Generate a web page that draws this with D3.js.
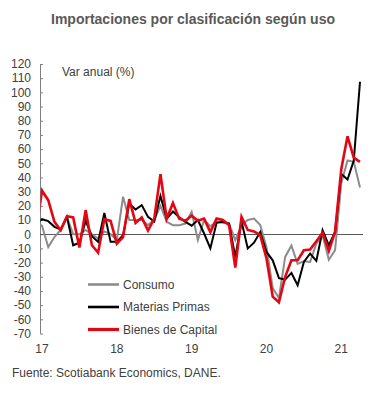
<!DOCTYPE html>
<html>
<head>
<meta charset="utf-8">
<script src="https://cdn.jsdelivr.net/npm/d3@7"></script>
<style>
  html, body { margin: 0; padding: 0; background: #fff; }
  svg { display: block; font-family: "Liberation Sans", Arial, sans-serif; }
</style>
</head>
<body>
<svg id="chart" width="386" height="397"></svg>
<script>
// Months: index -1 = Dec 2016 (clipped at axis), 0 = Jan 2017 ... 51 = Apr 2021
const startIndex = -1;
const consumo = [8,
  6, -9, -2, 3, 12, 0, 0, 3, 0, -3, 2, 0,
  -4, 26.4, 10, 10, 10, 6.4, 10, 20, 8.7, 6.4, 6.4, 7.5,
  15.8, -4.2, 10, 5.6, 8.7, 8, 7.5, -4.2, 6.4, 10, 11, 6.4,
  -9, -38, -45, -16, -8, -21, -19, -19.5, -6.6, -0.7, -18, -11.3,
  36, 52, 51, 33];
const materiasPrimas = [7,
  10.6, 9.2, 5.2, 3.3, 12.2, -7.8, -6, 9.4, -1.4, -5.4, 15, -5.4,
  -5.4, -0.7, 21.7, 17.4, 20.5, 12.2, 9, 27, 11, 16, 12, 8.7,
  6, 10, 0.5, -10, 8, 8.7, 7.5, -16, 9, -10, -6, 1.6,
  -12.5, -18.4, -31, -32, -27.3, -36, -19.5, -13.6, -18.8, 2.8, -7.8, 1.6,
  42.4, 38.6, 51.9, 107.5];
const bienesCapital = [0,
  30.7, 24, 8.7, 2.8, 12.7, 11.8, -9.4, 17, -7.8, -13, 10.6, 9.4,
  -6.6, -2, 24.7, 8, 11.8, 2.5, 11, 42.4, 11, 22, 11, 9.5,
  13, 9.5, 11, 1.5, 11, 10, 6.4, -23.5, 12.2, 3, 2, -0.7,
  -17, -44, -48, -30, -18.4, -18.4, -11.3, -10.8, -5, 1, -11.8, 1.6,
  46, 69, 54, 51];
const yTicks = d3.range(-70, 121, 10);
const xTickLabels = ["17", "18", "19", "20", "21"];
const xTickMonths = [0, 12, 24, 36, 48];
const seriesNames = ["Consumo", "Materias Primas", "Bienes de Capital"];
const seriesColors = ["#8c8c8c", "#000000", "#e30613"];
const seriesWidths = [2, 2, 2.6];

const svg = d3.select("#chart");

const x = d3.scaleLinear().domain([0, 51]).range([42, 360]);
const y = d3.scaleLinear().domain([-70, 120]).range([333.5, 64]);
const axisX = 40;

// Title
svg.append("text")
  .attr("x", 193).attr("y", 24)
  .attr("text-anchor", "middle")
  .attr("font-size", 14).attr("font-weight", "bold")
  .attr("fill", "#595959")
  .text("Importaciones por clasificación según uso");

// Y axis
const yAxis = d3.axisRight(y).tickValues(yTicks).tickSize(3).tickFormat("");
const gy = svg.append("g").attr("transform", `translate(${axisX},0)`).call(yAxis);
gy.select(".domain").attr("stroke", "#7f7f7f").attr("d", `M0.5,${y(120)}V${y(-70)}`);
gy.selectAll(".tick line").attr("stroke", "#7f7f7f");

// Y labels
svg.append("g").selectAll("text").data(yTicks).join("text")
  .attr("x", 31).attr("y", d => y(d) + 4.3)
  .attr("text-anchor", "end")
  .attr("font-size", 12).attr("fill", "#404040")
  .text(d => d);

// Axis caption
svg.append("text")
  .attr("x", 62).attr("y", 76)
  .attr("font-size", 12).attr("fill", "#404040")
  .text("Var anual (%)");

// Zero line
svg.append("line")
  .attr("x1", axisX).attr("x2", 363)
  .attr("y1", Math.round(y(0)) + 0.5).attr("y2", Math.round(y(0)) + 0.5)
  .attr("stroke", "#595959").attr("stroke-width", 1);

// X labels
svg.append("g").selectAll("text").data(xTickMonths).join("text")
  .attr("x", d => x(d)).attr("y", 353)
  .attr("text-anchor", "middle")
  .attr("font-size", 12).attr("fill", "#404040")
  .text((d, i) => xTickLabels[i]);

// Clip
svg.append("clipPath").attr("id", "plotclip")
  .append("rect").attr("x", axisX + 0.5).attr("y", 40).attr("width", 340).attr("height", 310);

const line = d3.line()
  .x((d, i) => x(i + startIndex))
  .y(d => y(d));

const allSeries = [consumo, materiasPrimas, bienesCapital];
const gLines = svg.append("g").attr("clip-path", "url(#plotclip)");
allSeries.forEach((s, k) => {
  gLines.append("path")
    .attr("d", line(s))
    .attr("fill", "none")
    .attr("stroke", seriesColors[k])
    .attr("stroke-width", seriesWidths[k])
    .attr("stroke-linejoin", "miter");
});

// Legend
const legY = [284.5, 307, 329.5];
seriesNames.forEach((n, k) => {
  svg.append("line")
    .attr("x1", 88).attr("x2", 119)
    .attr("y1", legY[k]).attr("y2", legY[k])
    .attr("stroke", seriesColors[k]).attr("stroke-width", seriesWidths[k] + 0.6);
  svg.append("text")
    .attr("x", 123).attr("y", legY[k] + 4.3)
    .attr("font-size", 12).attr("fill", "#404040")
    .text(n);
});

// Source
svg.append("text")
  .attr("x", 12).attr("y", 377)
  .attr("font-size", 12).attr("fill", "#404040")
  .text("Fuente: Scotiabank Economics, DANE.");
</script>
</body>
</html>
